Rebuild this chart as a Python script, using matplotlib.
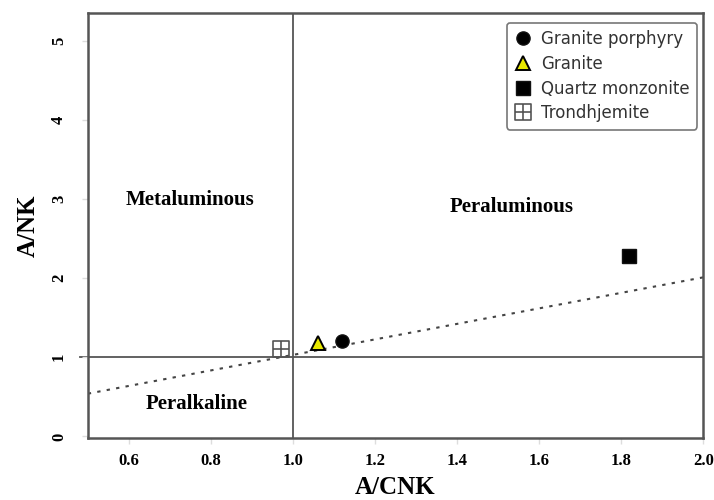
import matplotlib
matplotlib.use("Agg")
import matplotlib.pyplot as plt
from matplotlib.path import Path

# ── Data ──────────────────────────────────────────────
rock_types = ["Granite porphyry", "Granite", "Quartz monzonite", "Trondhjemite"]
acnk = [1.12, 1.06, 1.82, 0.97]
anK = [1.20, 1.18, 2.28, 1.11]

# dashed divider line
line_x = [0.5, 2.0]
line_y = [0.54, 2.01]

x_ticks = [0.6, 0.8, 1.0, 1.2, 1.4, 1.6, 1.8, 2.0]
y_ticks = [0, 1, 2, 3, 4, 5]

# square with a cross marker
box_plus = Path(
    [(-1, -1), (1, -1), (1, 1), (-1, 1), (-1, -1),
     (0, -1), (0, 1), (-1, 0), (1, 0)],
    [Path.MOVETO, Path.LINETO, Path.LINETO, Path.LINETO, Path.CLOSEPOLY,
     Path.MOVETO, Path.LINETO, Path.MOVETO, Path.LINETO],
)

styles = [
    dict(marker="o", markerfacecolor="black", markersize=9.5, markeredgecolor="#111111"),
    dict(marker="^", markerfacecolor="#e8e800", markersize=10, markeredgecolor="black",
         markeredgewidth=1.4),
    dict(marker="s", markerfacecolor="black", markersize=9.5, markeredgecolor="#111111"),
    dict(marker=box_plus, markerfacecolor="none", markersize=11, markeredgecolor="#555555",
         markeredgewidth=1.2),
]

fig = plt.figure(figsize=(7.14, 5.0), dpi=100)
ax = fig.add_axes([0.123, 0.124, 0.862, 0.850])

ax.axvline(1.0, color="#555555", lw=1.3, zorder=1)
# horizontal divider pokes a little past the left frame
ax.plot([0.48, 2.0], [1.0, 1.0], color="#555555", lw=1.3, zorder=1, clip_on=False)
ax.plot(line_x, line_y, color="#444444", lw=1.5, ls=(0, (1.6, 3)), zorder=1)

for name, x, y, st in zip(rock_types, acnk, anK, styles):
    ax.plot([x], [y], ls="none", label=name, zorder=3, **st)

serif = {"family": "Liberation Serif", "weight": "bold"}
ax.text(0.75, 2.99, "Metaluminous", ha="center", va="center", fontsize=15, **serif)
ax.text(1.532, 2.90, "Peraluminous", ha="center", va="center", fontsize=15, **serif)
ax.text(0.766, 0.41, "Peralkaline", ha="center", va="center", fontsize=15, **serif)

ax.set_xlim(0.5, 2.0)
ax.set_ylim(-0.02, 5.35)
ax.set_xticks(x_ticks)
ax.set_xticklabels([f"{v:.1f}" for v in x_ticks], fontdict=serif, fontsize=12)
ax.set_yticks(y_ticks)
ax.set_yticklabels([str(v) for v in y_ticks], fontdict=serif, fontsize=12,
                   rotation=90, va="center")
ax.tick_params(axis="both", color="#dddddd", length=4, width=1)
ax.tick_params(axis="y", pad=11)
ax.tick_params(axis="x", pad=7)

for s in ax.spines.values():
    s.set_color("#555555")
    s.set_linewidth(1.8)

ax.set_xlabel("A/CNK", fontsize=18, labelpad=5, **serif)
ax.set_ylabel("A/NK", fontsize=18, labelpad=8, **serif)

leg = ax.legend(loc="upper right", bbox_to_anchor=(0.995, 0.985),
                frameon=True, fancybox=True, handletextpad=0.5, borderpad=0.45,
                labelspacing=0.4, handlelength=1.1, borderaxespad=0.2,
                prop={"family": "DejaVu Sans", "size": 12})
leg.get_frame().set_edgecolor("#777777")
leg.get_frame().set_linewidth(1.2)
leg.get_frame().set_alpha(1)
for t in leg.get_texts():
    t.set_color("#333333")

fig.savefig("out.png", dpi=100)
